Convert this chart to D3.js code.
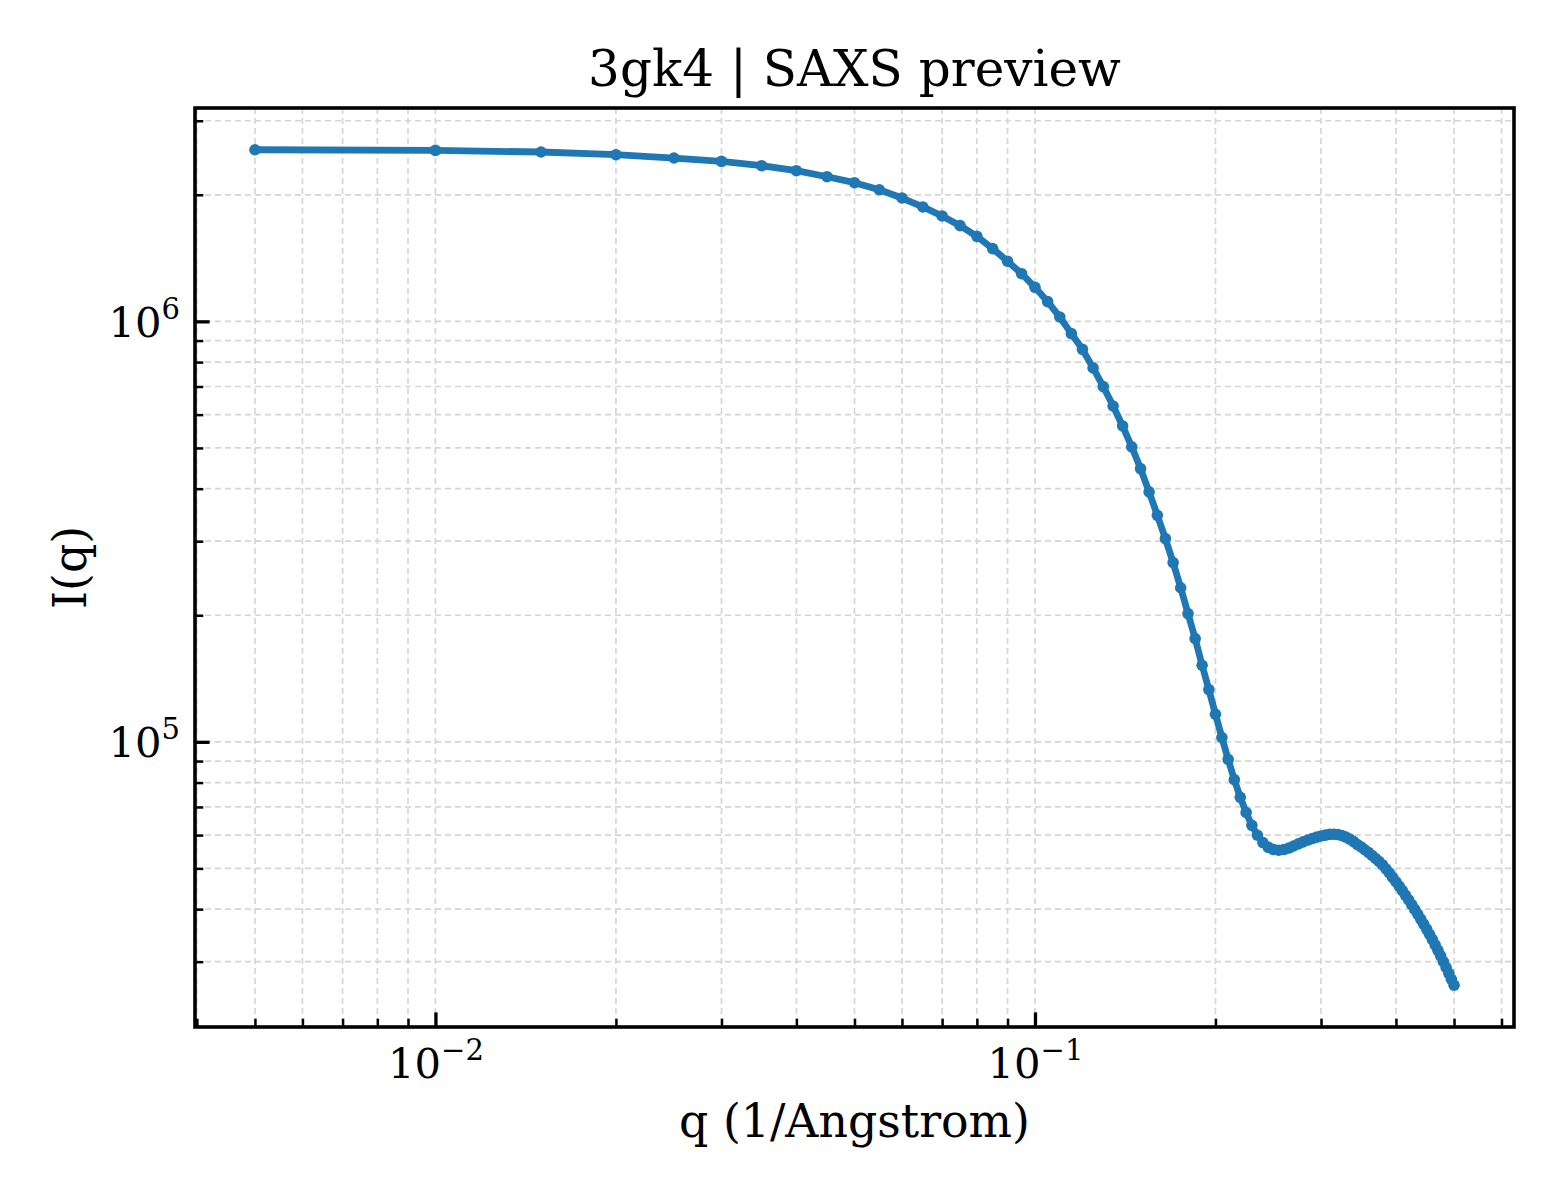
<!DOCTYPE html>
<html>
<head>
<meta charset="utf-8">
<script src="https://cdn.jsdelivr.net/npm/d3@7/dist/d3.min.js"></script>
<style>
  body { margin: 0; background: #fff; }
  svg { display: block; font-family: "DejaVu Serif", serif; }
</style>
</head>
<body>
<svg id="chart" width="1560" height="1200"></svg>
<script>
// scattering vector q (1/Angstrom)
var qValues = [
  0.005,0.01,0.015,0.02,0.025,0.03,0.035,0.04,0.045,0.05,
  0.055,0.06,0.065,0.07,0.075,0.08,0.085,0.09,0.095,0.1,
  0.105,0.11,0.115,0.12,0.125,0.13,0.135,0.14,0.145,0.15,
  0.155,0.16,0.165,0.17,0.175,0.18,0.185,0.19,0.195,0.2,
  0.205,0.21,0.215,0.22,0.225,0.23,0.235,0.24,0.245,0.25,
  0.255,0.26,0.265,0.27,0.275,0.28,0.285,0.29,0.295,0.3,
  0.305,0.31,0.315,0.32,0.325,0.33,0.335,0.34,0.345,0.35,
  0.355,0.36,0.365,0.37,0.375,0.38,0.385,0.39,0.395,0.4,
  0.405,0.41,0.415,0.42,0.425,0.43,0.435,0.44,0.445,0.45,
  0.455,0.46,0.465,0.47,0.475,0.48,0.485,0.49,0.495,0.5
];

// intensity I(q)
var intensity = [
  2559000,2550000,2528000,2491000,2446000,2401000,2345000,2282000,2208000,2137000,
  2056000,1965000,1871000,1781000,1689000,1593000,1489000,1390000,1298000,1205000,
  1114000,1024000,935000,858000,775000,699600,629000,564000,503000,446500,
  393000,345700,304300,266800,232500,201800,176000,152100,133100,116300,
  102400,90800,81300,73800,67900,63300,59950,57600,56100,55440,
  55240,55440,55900,56530,57200,57820,58400,58880,59330,59700,
  60000,60250,60300,60180,59850,59370,58720,57920,56980,56230,
  55370,54560,53670,52790,51930,50950,49850,48770,47580,46470,
  45370,44260,43150,42060,40990,39930,38900,37860,36860,35870,
  34860,33880,32890,31920,30970,30000,29060,28140,27240,26370
];

var xMajor = [0.01, 0.1];
var xMajorExp = ["\u22122", "\u22121"];
var yMajor = [1e5, 1e6];
var yMajorExp = ["5", "6"];

var titleText = "3gk4 | SAXS preview";
var xLabelText = "q (1/Angstrom)";
var yLabelText = "I(q)";

var box = { left: 195, top: 108, right: 1514, bottom: 1027 };
var width = box.right - box.left;
var height = box.bottom - box.top;

var data = qValues.map(function(q, i) { return { q: q, I: intensity[i] }; });

// matplotlib-like 5% margins in log space
function padLog(ext) {
  var a = Math.log10(ext[0]), b = Math.log10(ext[1]);
  var m = (b - a) * 0.05;
  return [Math.pow(10, a - m), Math.pow(10, b + m)];
}

var xScale = d3.scaleLog()
              .domain(padLog(d3.extent(qValues)))
              .range([0, width]);
var yScale = d3.scaleLog()
              .domain(padLog(d3.extent(intensity)))
              .range([height, 0]);

function isMajor(t) {
  var l = Math.log10(t);
  return Math.abs(l - Math.round(l)) < 1e-9;
}
var xMinor = xScale.ticks().filter(function(t) { return !isMajor(t); });
var yMinor = yScale.ticks().filter(function(t) { return !isMajor(t); });
var xAll = xScale.ticks();
var yAll = yScale.ticks();

var svg = d3.select("#chart");
svg.append("rect").attr("width", 1560).attr("height", 1200).attr("fill", "#fff");

var plot = svg.append("g")
              .attr("transform", "translate(" + box.left + "," + box.top + ")");

// grid (major + minor)
plot.append("g").selectAll("line")
    .data(xAll).enter().append("line")
    .attr("x1", function(d) { return xScale(d); })
    .attr("x2", function(d) { return xScale(d); })
    .attr("y1", 0).attr("y2", height)
    .attr("stroke", "#d6d6d6").attr("stroke-width", 1.7)
    .attr("stroke-dasharray", "6,4");
plot.append("g").selectAll("line")
    .data(yAll).enter().append("line")
    .attr("y1", function(d) { return yScale(d); })
    .attr("y2", function(d) { return yScale(d); })
    .attr("x1", 0).attr("x2", width)
    .attr("stroke", "#d6d6d6").attr("stroke-width", 1.7)
    .attr("stroke-dasharray", "6,4");

// curve
var line = d3.line()
             .x(function(d) { return xScale(d.q); })
             .y(function(d) { return yScale(d.I); });

plot.append("path")
    .datum(data)
    .attr("d", line)
    .attr("fill", "none")
    .attr("stroke", "#1f77b4")
    .attr("stroke-width", 6.8)
    .attr("stroke-linejoin", "round");

plot.selectAll("circle")
    .data(data).enter().append("circle")
    .attr("cx", function(d) { return xScale(d.q); })
    .attr("cy", function(d) { return yScale(d.I); })
    .attr("r", 5.8)
    .attr("fill", "#1f77b4");

// axes, ticks pointing inward
var xMinorAxis = plot.append("g")
    .attr("transform", "translate(0," + height + ")")
    .call(d3.axisBottom(xScale).tickValues(xMinor).tickSize(-8.3).tickFormat(""));
var xMajorAxis = plot.append("g")
    .attr("transform", "translate(0," + height + ")")
    .call(d3.axisBottom(xScale).tickValues(xMajor).tickSize(-14.6).tickPadding(14));
var yMinorAxis = plot.append("g")
    .call(d3.axisLeft(yScale).tickValues(yMinor).tickSize(-8.3).tickFormat(""));
var yMajorAxis = plot.append("g")
    .call(d3.axisLeft(yScale).tickValues(yMajor).tickSize(-14.6).tickPadding(14));

[xMinorAxis, xMajorAxis, yMinorAxis, yMajorAxis].forEach(function(g) {
  g.select(".domain").remove();
  g.selectAll(".tick line").attr("stroke", "#000");
});
xMinorAxis.selectAll(".tick line").attr("stroke-width", 2.5);
yMinorAxis.selectAll(".tick line").attr("stroke-width", 2.5);
xMajorAxis.selectAll(".tick line").attr("stroke-width", 3.3);
yMajorAxis.selectAll(".tick line").attr("stroke-width", 3.3);

// tick labels as 10^n
xMajorAxis.selectAll(".tick text")
    .each(function(d, i) {
      var t = d3.select(this).text("")
          .attr("y", 51).attr("dy", 0)
          .attr("font-size", 41.7).attr("fill", "#000")
          .attr("font-family", "DejaVu Serif");
      t.append("tspan").text("10");
      t.append("tspan").attr("dy", -18).attr("font-size", 29).text(xMajorExp[i]);
    });
yMajorAxis.selectAll(".tick text")
    .each(function(d, i) {
      var t = d3.select(this).text("")
          .attr("x", -15).attr("dy", 15)
          .attr("font-size", 41.7).attr("fill", "#000")
          .attr("font-family", "DejaVu Serif");
      t.append("tspan").text("10");
      t.append("tspan").attr("dy", -18).attr("font-size", 29).text(yMajorExp[i]);
    });

// frame
plot.append("rect")
    .attr("width", width).attr("height", height)
    .attr("fill", "none").attr("stroke", "#000").attr("stroke-width", 3.6);

// texts
svg.append("text")
   .attr("x", box.left + width / 2).attr("y", 86)
   .attr("text-anchor", "middle").attr("font-size", 50)
   .text(titleText);

svg.append("text")
   .attr("x", box.left + width / 2).attr("y", 1137)
   .attr("text-anchor", "middle").attr("font-size", 45.8)
   .text(xLabelText);

svg.append("text")
   .attr("transform", "translate(86," + (box.top + height / 2) + ") rotate(-90)")
   .attr("text-anchor", "middle").attr("font-size", 45.8)
   .text(yLabelText);
</script>
</body>
</html>
